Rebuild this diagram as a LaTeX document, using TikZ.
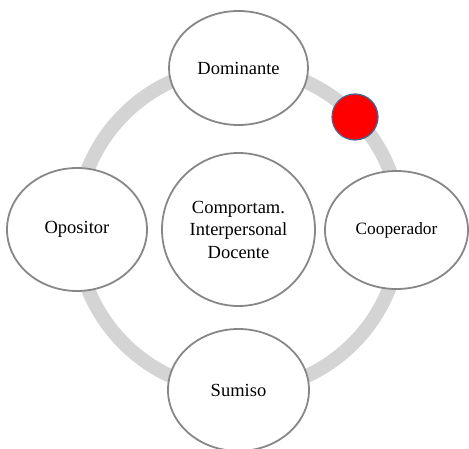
\documentclass[tikz,border=0pt]{standalone}
\usepackage{fontspec}
\setmainfont{Liberation Serif}
\usetikzlibrary{shapes.geometric}
\definecolor{ringgray}{RGB}{212,212,212}
\definecolor{edgegray}{RGB}{135,135,135}
\definecolor{dotedge}{RGB}{65,105,150}
\begin{document}
\begin{tikzpicture}[x=1pt,y=-1pt,
  oval/.style={ellipse, draw=edgegray, line width=1.8pt, fill=white, inner sep=0pt, font=\fontsize{18.5}{22.5}\selectfont, align=center},
  ring/.style={draw=ringgray, line width=14pt},
  dot/.style={circle, draw=dotedge, line width=1.2pt, fill=red, inner sep=0pt, minimum size=46pt}]
\useasboundingbox (0,0) rectangle (469,449);
\coordinate (c) at (238.5,229);
\draw[ring] (c) circle[radius=162];
\node[oval, minimum width=139pt, minimum height=114pt] (dom) at (238.5,68) {Dominante};
\node[oval, minimum width=140pt, minimum height=123pt] (opo) at (77,229.5) {Opositor};
\node[oval, minimum width=143pt, minimum height=118pt, font=\fontsize{17.3}{21}\selectfont] (coop) at (396.5,230) {Cooperador};
\node[oval, minimum width=141pt, minimum height=122pt] (sum) at (238.5,390) {Sumiso};
\node[oval, minimum width=153pt, minimum height=153pt] (cid) at (238.5,229.5) {Comportam.\\Interpersonal\\Docente};
\node[dot] (rd) at (355,117) {};
\end{tikzpicture}
\end{document}
